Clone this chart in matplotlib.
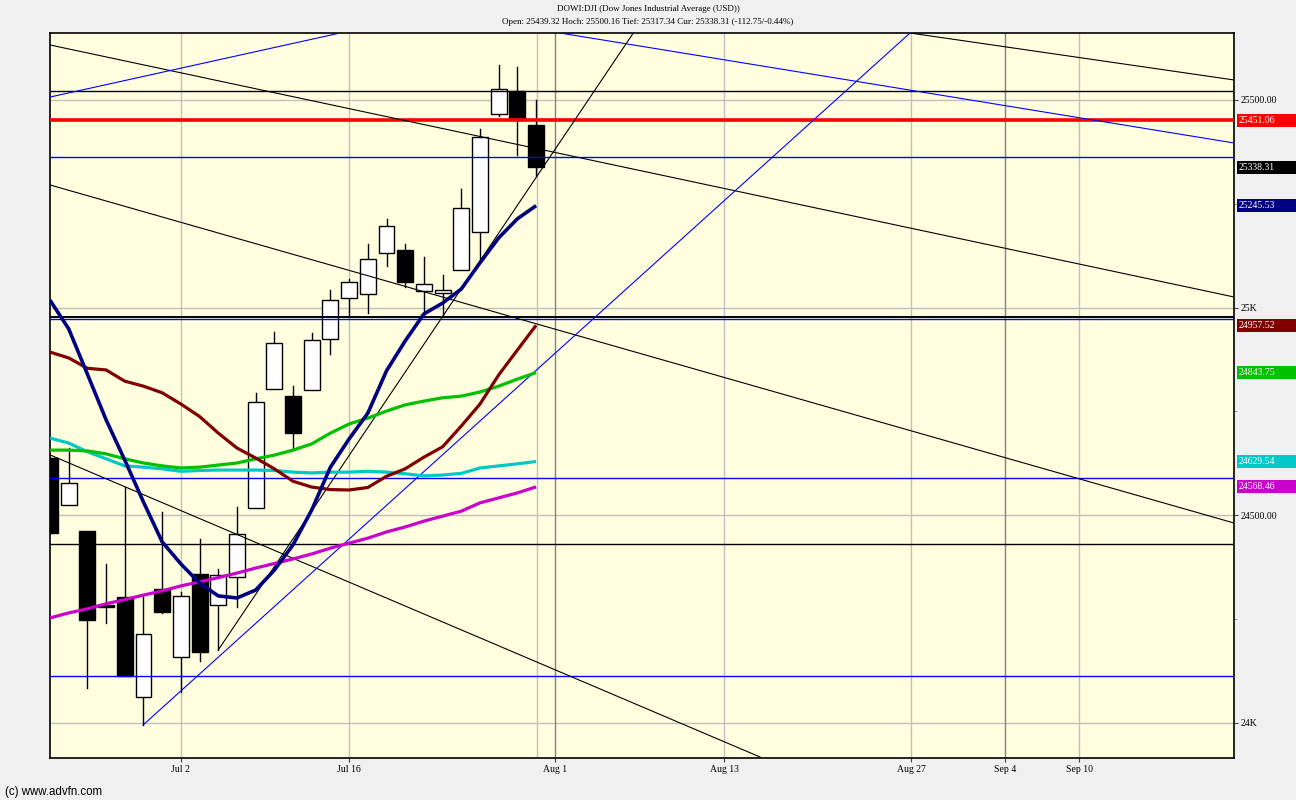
import matplotlib
matplotlib.use("Agg")
import matplotlib.pyplot as plt

# candle index 0 = Jul 2 (trading days)
idx = list(range(-7, 20))
opens = [24637, 24524, 24462, 24283, 24303, 24062, 24323, 24160, 24359, 24283,
         24351, 24518, 24804, 24787, 24801, 24924, 25023, 25032, 25131, 25139,
         25040, 25035, 25090, 25181, 25466, 25521, 25439.32]
highs = [24640, 24661, 24463, 24382, 24567, 24307, 24507, 24316, 24443, 24371,
         24519, 24795, 24942, 24812, 24938, 25043, 25069, 25153, 25213, 25153,
         25121, 25078, 25285, 25430, 25584, 25579, 25500.16]
lows = [24455, 24524, 24084, 24240, 24113, 23995, 24266, 24075, 24149, 24176,
        24279, 24518, 24804, 24661, 24801, 24888, 24977, 24986, 25100, 25049,
        24977, 24977, 25090, 25115, 25461, 25367, 25317.34]
closes = [24458, 24577, 24249, 24280, 24113, 24214, 24267, 24306, 24172, 24356,
          24454, 24774, 24916, 24698, 24921, 25018, 25061, 25117, 25196, 25061,
          25056, 25043, 25239, 25412, 25526, 25451.06, 25338.31]

ma_navy = [25018, 24949, 24840, 24730, 24633, 24532, 24436, 24383, 24337, 24306,
           24301, 24320, 24368, 24429, 24513, 24616, 24684, 24746, 24848, 24920,
           24985, 25011, 25045, 25108, 25168, 25214, 25245.53]
ma_red = [24893, 24879, 24854, 24850, 24823, 24811, 24795, 24768, 24738, 24698,
          24662, 24638, 24612, 24582, 24568, 24562, 24561, 24567, 24594, 24612,
          24640, 24665, 24715, 24768, 24838, 24898, 24957.52]
ma_green = [24657, 24657, 24655, 24648, 24636, 24626, 24619, 24614, 24616, 24621,
            24626, 24636, 24645, 24657, 24672, 24698, 24720, 24734, 24751, 24766,
            24775, 24783, 24787, 24797, 24811, 24828, 24843.75]
ma_cyan = [24686, 24674, 24653, 24636, 24619, 24616, 24612, 24606, 24608, 24609,
           24609, 24609, 24608, 24604, 24602, 24604, 24604, 24606, 24604, 24600,
           24595, 24597, 24601, 24614, 24619, 24624, 24629.54]
ma_magenta = [24253, 24265, 24275, 24287, 24297, 24308, 24318, 24330, 24340, 24350,
              24361, 24373, 24384, 24395, 24407, 24421, 24433, 24445, 24460, 24472,
              24486, 24498, 24510, 24530, 24542, 24554, 24568.46]

ma_series = [(ma_magenta, '#cc00cc'), (ma_cyan, '#00c8c8'), (ma_green, '#00c000'),
             (ma_red, '#800000'), (ma_navy, '#000080')]

# drawn levels and trend lines
hlines = [(25521.7, 'black', 1.0), (25451.06, '#ff0000', 2.6), (25362.8, '#0000ff', 1.0),
          (24977.0, 'black', 1.4), (24973.5, '#0000ff', 1.0), (24589.9, '#0000ff', 1.0),
          (24431.0, 'black', 1.0), (24113.2, '#0000ff', 1.0)]
trend_lines = [
    ((-6.99, 25632.4), (56.33, 25025.7), 'black'),
    ((39.0, 25661.3), (56.33, 25548.2), 'black'),
    ((-6.99, 25295.3), (56.33, 24481.5), 'black'),
    ((-6.99, 24645.3), (30.98, 23918.1), 'black'),
    ((2.0, 24175.8), (24.2, 25661.3), 'black'),
    ((-6.99, 25507.2), (8.52, 25661.3), '#0000ff'),
    ((20.28, 25661.3), (56.33, 25396.5), '#0000ff'),
    ((-2.02, 23995.2), (39.0, 25661.3), '#0000ff'),
]

tick_pos = [0, 9, 20.02, 29.07, 39.06, 44.08, 48.04]
tick_labels = ['Jul 2', 'Jul 16', 'Aug 1', 'Aug 13', 'Aug 27', 'Sep 4', 'Sep 10']
light_grid = [0, 9, 19.06, 29.07, 39.06, 48.04]
dark_grid = [20.02, 44.08]

y_ticks = [24000, 24500, 25000, 25500]
y_labels = ['24K', '24500.00', '25K', '25500.00']

tags = [(25451.06, '#ff0000'), (25338.31, '#000000'), (25245.53, '#000080'),
        (24957.52, '#800000'), (24843.75, '#00c000'), (24629.54, '#00c8c8'),
        (24568.46, '#cc00cc')]

serif = 'Liberation Serif'
W, H = 1296, 800

fig = plt.figure(figsize=(12.96, 8), dpi=100, facecolor='#f0f0f0')
ax = fig.add_axes([50 / W, 1 - 758 / H, 1184 / W, 725 / H])
ax.set_facecolor('#ffffe0')
ax.set_xlim(-7.0, 56.33)
ax.set_ylim(23915.7, 25661.3)

for y in y_ticks:
    ax.axhline(y, color='#c0c0c0', lw=1, zorder=1)
for x in light_grid:
    ax.axvline(x, color='#c0c0c0', lw=1, zorder=1)
for x in dark_grid:
    ax.axvline(x, color='#808080', lw=1, zorder=1)

# candles
w = 0.85
for i, o, h, l, c in zip(idx, opens, highs, lows, closes):
    top, bot = max(o, c), min(o, c)
    ax.plot([i, i], [top, h], color='black', lw=1, zorder=2)
    ax.plot([i, i], [l, bot], color='black', lw=1, zorder=2)
    face = 'white' if c >= o else 'black'
    body = max(top - bot, 3)
    ax.add_patch(plt.Rectangle((i - w / 2, bot), w, body, facecolor=face,
                               edgecolor='black', lw=1, zorder=3))

for y, col, lw in hlines:
    ax.axhline(y, color=col, lw=lw, zorder=4)
for (x0, y0), (x1, y1), col in trend_lines:
    ax.plot([x0, x1], [y0, y1], color=col, lw=0.8, zorder=4)

for vals, col in ma_series:
    lw = 2.6 if col == '#000080' else 2.3
    ax.plot(idx, vals, color=col, lw=lw, zorder=5, solid_capstyle='butt')

ax.set_xticks(tick_pos)
ax.set_xticklabels(tick_labels, fontsize=7, family=serif)
ax.yaxis.tick_right()
ax.set_yticks(y_ticks)
ax.set_yticklabels(y_labels, fontsize=7, family=serif)
ax.set_yticks([24250, 24750, 25250], minor=True)
ax.tick_params(axis='both', length=3, width=0.8, color='#404040', pad=2)
ax.tick_params(axis='y', which='minor', length=2, color='#808080')
for s in ax.spines.values():
    s.set_linewidth(1.2)

# value tags on the right edge, boxes run to the figure border
tag_h = 13 / H
for val, col in tags:
    fy = fig.transFigure.inverted().transform(ax.transData.transform((0, val)))[1]
    fig.patches.append(plt.Rectangle((1237 / W, fy - tag_h / 2), 1 - 1237 / W, tag_h,
                                     transform=fig.transFigure, facecolor=col,
                                     edgecolor='none', zorder=6))
    fig.text(1239 / W, fy, f'{val:.2f}', ha='left', va='center', fontsize=7,
             family=serif, color='white', zorder=7)

fig.text(0.5, 1 - 9 / H, 'DOWI:DJI (Dow Jones Industrial Average (USD))',
         ha='center', va='center', fontsize=6.5, family=serif)
fig.text(0.5, 1 - 22 / H,
         'Open: 25439.32 Hoch: 25500.16 Tief: 25317.34 Cur: 25338.31 (-112.75/-0.44%)',
         ha='center', va='center', fontsize=6.5, family=serif)
fig.text(5 / W, 1 - 792 / H, '(c) www.advfn.com', ha='left', va='center',
         fontsize=8.3, family='Liberation Sans')

fig.savefig('out.png', dpi=100, facecolor=fig.get_facecolor())
